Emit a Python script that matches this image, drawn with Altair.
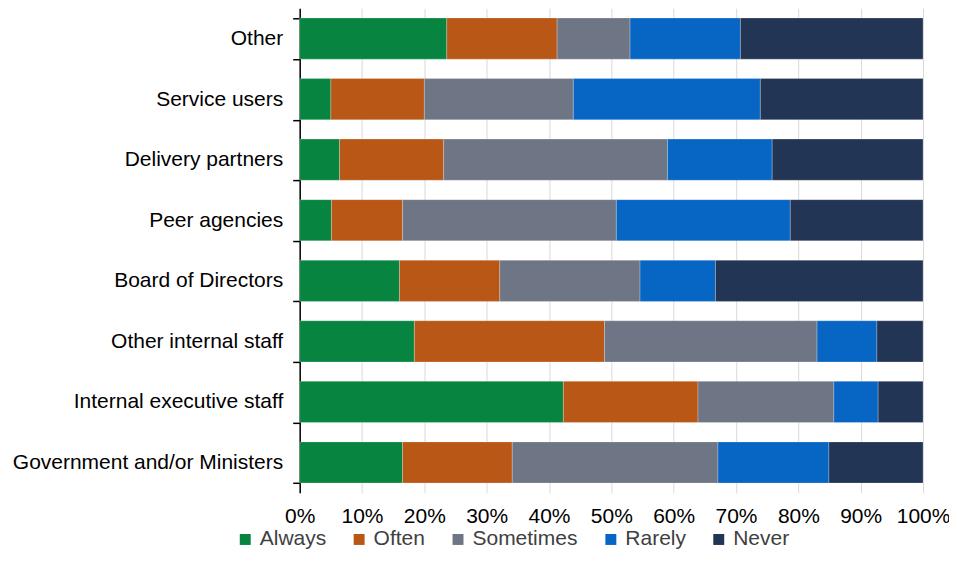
import altair as alt
import pandas as pd

categories = ["Other", "Service users", "Delivery partners", "Peer agencies",
              "Board of Directors", "Other internal staff",
              "Internal executive staff", "Government and/or Ministers"]
responses = ["Always", "Often", "Sometimes", "Rarely", "Never"]
colors = ["#078540", "#B85716", "#6E7584", "#0765C4", "#233554"]

always    = [23.6,  5.0,  6.4,  5.1, 16.0, 18.4, 42.3, 16.5]
often     = [17.7, 15.0, 16.7, 11.4, 16.1, 30.5, 21.6, 17.6]
sometimes = [11.7, 23.9, 35.9, 34.3, 22.5, 34.1, 21.8, 33.0]
rarely    = [17.7, 30.0, 16.8, 27.9, 12.1,  9.6,  7.1, 17.8]
never     = [29.3, 26.1, 24.2, 21.3, 33.3,  7.4,  7.2, 15.1]

series = [always, often, sometimes, rarely, never]
rows = []
for r_i, (resp, vals) in enumerate(zip(responses, series)):
    for cat, v in zip(categories, vals):
        rows.append({"Category": cat, "Response": resp, "Value": v / 100.0, "Order": r_i})
df = pd.DataFrame(rows)

W, H = 624, 485
FONT = "Liberation Sans"
FS = 21

bars = alt.Chart(df).mark_bar(stroke="#ffffff", strokeWidth=0.4, strokeOpacity=0.6).encode(
    y=alt.Y("Category:N", sort=categories, title=None,
            scale=alt.Scale(paddingInner=0.32, paddingOuter=0.16),
            axis=alt.Axis(tickBand="extent", tickSize=7, tickColor="#000000", tickWidth=1.5,
                          domainColor="#000000", domainWidth=1.5, grid=False,
                          labelFontSize=FS, labelColor="#000000", labelFont=FONT,
                          labelPadding=10, labelLimit=400, labelOverlap=False)),
    x=alt.X("Value:Q", stack="zero", title=None,
            scale=alt.Scale(domain=[0, 1]),
            axis=alt.Axis(format=".0%", values=[i / 10 for i in range(11)],
                          ticks=False, domain=False, grid=True, gridColor="#d9d9d9",
                          labelFontSize=21, labelColor="#000000", labelFont=FONT,
                          labelPadding=13, labelFlush=False, labelOverlap=False)),
    color=alt.Color("Response:N", sort=responses,
                    scale=alt.Scale(domain=responses, range=colors),
                    legend=alt.Legend(title=None, orient="none", direction="horizontal",
                                      legendX=-65, legendY=521, symbolType="square",
                                      symbolSize=120, symbolStrokeWidth=0,
                                      labelFontSize=21, labelColor="#404040",
                                      labelFont=FONT, columnPadding=22, labelOffset=4)),
    order=alt.Order("Order:Q"),
)

chart = bars.properties(
    width=W, height=H,
    autosize=alt.AutoSizeParams(type="none"),
    padding={"left": 292, "top": 0, "right": 26, "bottom": 58},
).configure_view(stroke=None)

chart.save("out.html", embed_options={"renderer": "svg", "actions": False})
